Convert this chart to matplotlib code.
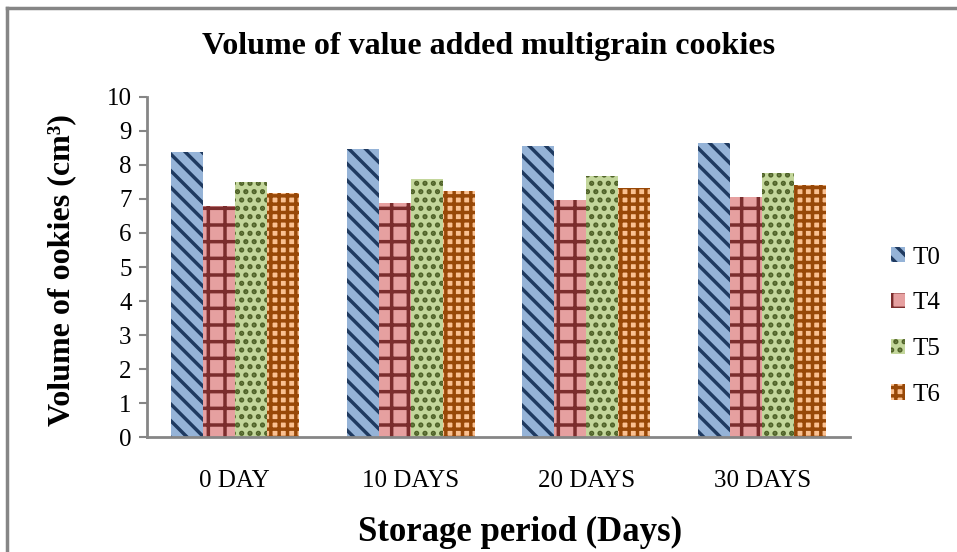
import matplotlib
matplotlib.use("Agg")
import matplotlib.pyplot as plt
from matplotlib.lines import Line2D
import numpy as np

plt.rcParams['font.family'] = ['Liberation Serif', 'DejaVu Serif']
plt.rcParams['hatch.linewidth'] = 2.5

# data
periods = ['0 DAY', '10 DAYS', '20 DAYS', '30 DAYS']
series = ['T0', 'T4', 'T5', 'T6']
t0 = [8.38, 8.47, 8.56, 8.65]
t4 = [6.79, 6.88, 6.97, 7.06]
t5 = [7.50, 7.59, 7.68, 7.76]
t6 = [7.18, 7.24, 7.32, 7.41]
values = [t0, t4, t5, t6]

faces = ['#95b3d7', '#e6a0a0', '#c3d69b', '#fac090']
hatch_cols = ['#1f3a60', '#7b2d2d', '#4f6228', '#984807']
hatches = ['\\\\', '+', '..', '++']

fig = plt.figure(figsize=(9.57, 5.52), dpi=100)
ax = fig.add_axes([0.1536, 0.2083, 0.7346, 0.616])

x = np.arange(len(periods))
w = 0.182
for i, (name, vals) in enumerate(zip(series, values)):
    ax.bar(x + (i - 1.5) * w, vals, width=w, color=faces[i],
           edgecolor=hatch_cols[i], linewidth=0, hatch=hatches[i], label=name)

ax.set_xlim(-0.5, len(periods) - 0.5)
ax.set_ylim(0, 10)
ax.set_yticks(range(0, 11))
ax.set_xticks(x)
ax.set_xticklabels(periods)
ax.tick_params(axis='x', length=0, labelsize=18, pad=24)
ax.tick_params(axis='y', length=6, width=1.5, color='#868686', labelsize=18, pad=5, direction='out')
for s in ['top', 'right']:
    ax.spines[s].set_visible(False)
for s in ['left', 'bottom']:
    ax.spines[s].set_color('#868686')
    ax.spines[s].set_linewidth(2)

ax.set_ylabel('Volume of ookies (cm³)', fontsize=23, fontweight='bold')
ax.yaxis.set_label_coords(-0.10, 0.49)
fig.text(0.543, 0.036, 'Storage period (Days)', ha='center', va='center',
         fontsize=25, fontweight='bold')
fig.text(0.51, 0.915, 'Volume of value added multigrain cookies', ha='center', va='center',
         fontsize=23, fontweight='bold')

leg = ax.legend(loc='center left', bbox_to_anchor=(0.918, 0.409), bbox_transform=fig.transFigure,
                frameon=False, fontsize=18, handlelength=0.55, handleheight=0.55,
                labelspacing=0.95, handletextpad=0.3, borderpad=0)

# outer chart frame (left and top edges only visible)
fig.add_artist(Line2D([0.0075, 0.0075], [0, 0.986], transform=fig.transFigure, color='#868686', lw=2.5))
fig.add_artist(Line2D([0.0075, 1.0], [0.986, 0.986], transform=fig.transFigure, color='#868686', lw=2.5))

fig.savefig('out.png', dpi=100)
